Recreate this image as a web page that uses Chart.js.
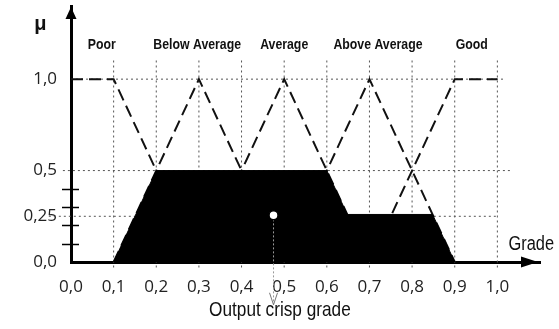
<!DOCTYPE html>
<html>
<head>
<meta charset="utf-8">
<script src="https://cdn.jsdelivr.net/npm/chart.js@4.4.0/dist/chart.umd.min.js"></script>
<style>
  html, body { margin: 0; padding: 0; background: #fff; }
</style>
</head>
<body>
<canvas id="fuzzyChart" width="559" height="329"></canvas>
<script>
// tick labels
const xTickValues = [0, 0.1, 0.2, 0.3, 0.4, 0.5, 0.6, 0.7, 0.8, 0.9, 1.0];
const xTickLabels = ["0,0", "0,1", "0,2", "0,3", "0,4", "0,5", "0,6", "0,7", "0,8", "0,9", "1,0"];
const yTickValues = [0, 0.25, 0.5, 1.0];
const yTickLabels = ["0,0", "0,25", "0,5", "1,0"];
const yMinorTicks = [0.1, 0.2, 0.3, 0.4];

// membership functions
const setNames = ["Poor", "Below Average", "Average", "Above Average", "Good"];
const poorX = [0.0, 0.1, 0.3];
const poorMu = [1, 1, 0];
const belowX = [0.1, 0.3, 0.5];
const belowMu = [0, 1, 0];
const averageX = [0.3, 0.5, 0.7];
const averageMu = [0, 1, 0];
const aboveX = [0.5, 0.7, 0.9];
const aboveMu = [0, 1, 0];
const goodX = [0.7, 0.9, 1.0];
const goodMu = [0, 1, 1];

// aggregated (clipped) output
const outputX = [0.1, 0.2, 0.6, 0.648, 0.848, 0.9];
const outputMu = [0, 0.5, 0.5, 0.26, 0.26, 0];

// crisp result
const crispGrade = 0.475;
const crispMu = 0.255;

document.addEventListener("DOMContentLoaded", function () {
  const pts = (xs, ys) => xs.map((x, i) => ({ x: x, y: ys[i] }));
  const labelX = [0.072, 0.296, 0.5, 0.72, 0.94];
  const gridColor = "#555";
  const tickFont = "'Open Sans', sans-serif";

  const datasets = [];

  // dotted guide lines
  xTickValues.slice(1).forEach(function (v) {
    datasets.push({
      data: [{ x: v, y: -0.03 }, { x: v, y: 1.11 }],
      borderColor: gridColor, borderWidth: 1, borderDash: [2, 3],
      pointRadius: 0, clip: false, order: 5,
    });
  });
  [[0.25, -0.052, 1.0], [0.5, -0.019, 1.03], [1.0, 0, 1.02]].forEach(function (h) {
    datasets.push({
      data: [{ x: h[1], y: h[0] }, { x: h[2], y: h[0] }],
      borderColor: gridColor, borderWidth: 1, borderDash: [2, 3],
      pointRadius: 0, clip: false, order: 5,
    });
  });

  // dashed membership triangles
  [[poorX, poorMu], [belowX, belowMu], [averageX, averageMu], [aboveX, aboveMu], [goodX, goodMu]]
    .forEach(function (s, i) {
      datasets.push({
        label: setNames[i],
        data: pts(s[0], s[1]),
        borderColor: "#111", borderWidth: 2, borderDash: [12, 6],
        pointRadius: 0, order: 4,
      });
    });

  // aggregated area
  datasets.push({
    data: pts(outputX, outputMu),
    borderColor: "#000", borderWidth: 1, backgroundColor: "#000",
    fill: "origin", pointRadius: 0, order: 3,
  });

  // crisp output pointer
  datasets.push({
    data: [{ x: crispGrade, y: crispMu }, { x: crispGrade, y: -0.234 }],
    borderColor: "#999", borderWidth: 1, borderDash: [2, 2],
    pointRadius: 0, clip: false, order: 2,
  });
  datasets.push({
    data: [{ x: crispGrade, y: crispMu }],
    showLine: false, pointRadius: 4.5, pointBackgroundColor: "#fff",
    pointBorderColor: "#000", pointBorderWidth: 1.5, order: 1,
  });

  // condensed text (the original uses a narrow face)
  function narrowText(c, text, x, y, font, align) {
    c.save();
    c.font = font;
    c.textAlign = align;
    c.textBaseline = "middle";
    c.translate(x, y);
    c.scale(0.82, 1);
    c.fillText(text, 0, 0);
    c.restore();
  }

  const extras = {
    id: "extras",
    afterDraw: function (chart) {
      const c = chart.ctx;
      const xs = chart.scales.x, ys = chart.scales.y;
      const a = chart.chartArea;
      c.save();
      c.fillStyle = "#000";
      c.strokeStyle = "#000";
      // axis arrow heads
      c.beginPath();
      c.moveTo(a.left, a.top + 1);
      c.lineTo(a.left - 5.5, a.top + 13);
      c.lineTo(a.left + 5.5, a.top + 13);
      c.closePath();
      c.fill();
      c.beginPath();
      c.moveTo(a.right - 2, a.bottom);
      c.lineTo(a.right - 19, a.bottom - 5.5);
      c.lineTo(a.right - 19, a.bottom + 5.5);
      c.closePath();
      c.fill();
      // minor ticks on the y axis
      c.lineWidth = 1.5;
      yMinorTicks.forEach(function (v) {
        const y = Math.round(ys.getPixelForValue(v)) + 0.5;
        c.beginPath();
        c.moveTo(a.left - 9, y);
        c.lineTo(a.left + 8, y);
        c.stroke();
      });
      // crisp arrow head
      const px = xs.getPixelForValue(crispGrade);
      const py = ys.getPixelForValue(-0.234);
      c.strokeStyle = "#777";
      c.lineWidth = 1;
      c.beginPath();
      c.moveTo(px - 4, py - 12);
      c.lineTo(px, py);
      c.lineTo(px + 4, py - 12);
      c.stroke();
      // texts
      c.fillStyle = "#111";
      setNames.forEach(function (n, i) {
        narrowText(c, n, xs.getPixelForValue(labelX[i]), ys.getPixelForValue(1.19),
          "bold 15px 'Liberation Sans', Arial, sans-serif", "center");
      });
      c.font = "bold 20px 'Liberation Sans', sans-serif";
      c.textAlign = "center";
      c.textBaseline = "middle";
      c.fillText("\u03bc", xs.getPixelForValue(-0.072), ys.getPixelForValue(1.3));
      narrowText(c, "Output crisp grade", xs.getPixelForValue(0.49), ys.getPixelForValue(-0.262),
        "21px 'Liberation Sans', Arial, sans-serif", "center");
      narrowText(c, "Grade", xs.getPixelForValue(1.026), ys.getPixelForValue(0.098),
        "20px 'Liberation Sans', Arial, sans-serif", "left");
      c.restore();
    },
  };

  new Chart(document.getElementById("fuzzyChart"), {
    type: "line",
    data: { datasets: datasets },
    options: {
      responsive: false,
      animation: false,
      layout: { padding: { top: 4, right: 19, left: 0, bottom: 0 } },
      elements: { line: { tension: 0 } },
      plugins: { legend: { display: false }, tooltip: { enabled: false } },
      scales: {
        x: {
          type: "linear",
          min: 0,
          max: 1.1,
          afterBuildTicks: function (s) { s.ticks = xTickValues.map(v => ({ value: v })); },
          afterFit: function (s) { s.height = 67; s.paddingLeft = 0; s.paddingRight = 0; },
          grid: { display: false, drawTicks: false },
          border: { display: true, color: "#000", width: 3 },
          ticks: {
            autoSkip: false, maxRotation: 0, padding: 15, color: "#222",
            font: { family: tickFont, size: 17 },
            callback: (v, i) => xTickLabels[i],
          },
        },
        y: {
          type: "linear",
          min: 0,
          max: 1.4,
          afterBuildTicks: function (s) { s.ticks = yTickValues.map(v => ({ value: v })); },
          afterFit: function (s) { s.width = 71; s.paddingTop = 0; s.paddingBottom = 0; },
          grid: { display: false, drawTicks: false },
          border: { display: true, color: "#000", width: 3 },
          ticks: {
            autoSkip: false, padding: 14, color: "#222",
            font: { family: tickFont, size: 17 },
            callback: (v, i) => yTickLabels[i],
          },
        },
      },
    },
    plugins: [extras],
  });
});
</script>
</body>
</html>
